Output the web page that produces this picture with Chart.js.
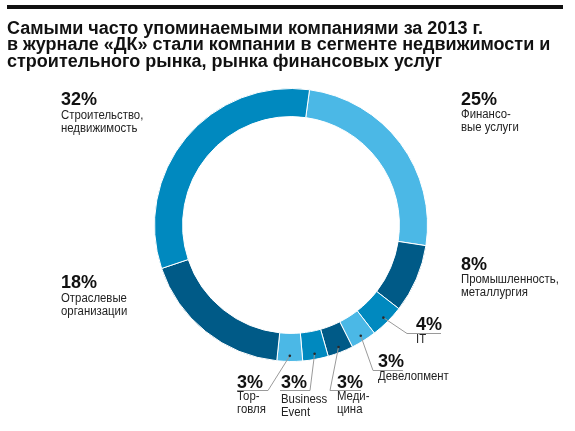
<!DOCTYPE html>
<html><head><meta charset="utf-8">
<script src="https://cdn.jsdelivr.net/npm/chart.js@4.4.0/dist/chart.umd.min.js"></script>
<style>
html,body{margin:0;padding:0;background:#fff;}
#wrap{position:relative;width:575px;height:431px;overflow:hidden;}
#c{position:absolute;left:0;top:0;}
.t{position:absolute;left:7px;top:19.5px;font:bold 18px "Liberation Sans",Arial,sans-serif;line-height:16.5px;color:#111;white-space:nowrap;}
.lab{position:absolute;white-space:nowrap;color:#222;}
.pct{font:bold 18px "Liberation Sans",Arial,sans-serif;line-height:18px;color:#111;}
.txt{font:12.5px "Liberation Sans",Arial,sans-serif;line-height:13px;transform:scaleX(0.91);transform-origin:0 0;}
</style></head>
<body><div id="wrap">
<div style="position:absolute;left:7px;top:5px;width:556px;height:4px;background:#111;"></div>
<canvas id="c" width="575" height="431"></canvas>
<div class="t" id="title"></div>
<div id="labels"></div>
</div>
<script>
const titleLines = ["Самыми часто упоминаемыми компаниями за 2013 г.",
  "в журнале «ДК» стали компании в сегменте недвижимости и",
  "строительного рынка, рынка финансовых услуг"];
const categories = [["Финансо-","вые услуги"],["Промышленность,","металлургия"],["IT"],["Девелопмент"],["Меди-","цина"],["Business","Event"],["Тор-","говля"],["Отраслевые","организации"],["Строительство,","недвижимость"]];
const values = [25, 8, 4, 3, 3, 3, 3, 18, 32];
const pctLabels = ["25%","8%","4%","3%","3%","3%","3%","18%","32%"];
const colors = ["#4bb8e6","#005a87","#0089bf","#4bb8e6","#005a87","#0089bf","#4bb8e6","#005a87","#0089bf"];

// label layout: x, pct baseline, body first baseline, leader elbow & end (null = no leader)
const layout = [
  {x:461, pb:105, bb:119, leader:null},
  {x:461, pb:270, bb:284, leader:null},
  {x:416, pb:330, bb:344, leader:[[407,333],[441,333]]},
  {x:378, pb:367, bb:381, leader:[[373,370],[403,370]]},
  {x:337, pb:388, bb:401, leader:[[330,390],[361,390]]},
  {x:281, pb:388, bb:404, leader:[[310,390],[280,390]]},
  {x:237, pb:388, bb:401, leader:[[268,390],[237,390]]},
  {x:61,  pb:288, bb:303, leader:null},
  {x:61,  pb:105, bb:120, leader:null}
];

const tdiv = document.getElementById('title');
titleLines.forEach(l=>{const d=document.createElement('div');d.textContent=l;tdiv.appendChild(d);});

const ldiv = document.getElementById('labels');
categories.forEach((lines,i)=>{
  const L = layout[i];
  const p = document.createElement('div');
  p.className='lab pct'; p.textContent=pctLabels[i];
  p.style.left=L.x+'px'; p.style.top=(L.pb-15.2)+'px';
  ldiv.appendChild(p);
  lines.forEach((s,j)=>{
    const d=document.createElement('div');
    d.className='lab txt'; d.textContent=s;
    d.style.left=L.x+'px'; d.style.top=(L.bb+j*13-11.2)+'px';
    ldiv.appendChild(d);
  });
});

const leaderPlugin = {
  id:'leaders',
  afterDatasetsDraw(chart){
    const ctx=chart.ctx;
    const meta=chart.getDatasetMeta(0);
    meta.data.forEach((arc,i)=>{
      const L=layout[i]; if(!L.leader) return;
      const p=arc.getProps(['x','y','startAngle','endAngle','innerRadius','outerRadius'],true);
      const a=(p.startAngle+p.endAngle)/2;
      const r=p.innerRadius+0.8*(p.outerRadius-p.innerRadius);
      const sx=p.x+Math.cos(a)*r, sy=p.y+Math.sin(a)*r;
      ctx.save();
      ctx.strokeStyle='#9a9a9a'; ctx.lineWidth=1;
      ctx.beginPath(); ctx.moveTo(sx,sy);
      L.leader.forEach(pt=>ctx.lineTo(pt[0],pt[1]+0.5));
      ctx.stroke();
      ctx.fillStyle='#2a2a2a';
      ctx.beginPath(); ctx.arc(sx,sy,1.3,0,Math.PI*2); ctx.fill();
      ctx.restore();
    });
  }
};

new Chart(document.getElementById('c'),{
  type:'doughnut',
  data:{labels:categories.map(c=>c.join(' ')),datasets:[{data:values,backgroundColor:colors,borderColor:'#ffffff',borderWidth:1}]},
  options:{
    responsive:false,animation:false,
    rotation:7.8,cutout:'79.4%',
    layout:{padding:{left:154,top:88,right:147,bottom:69}},
    plugins:{legend:{display:false},tooltip:{enabled:false}}
  },
  plugins:[leaderPlugin]
});
</script>
</body></html>
